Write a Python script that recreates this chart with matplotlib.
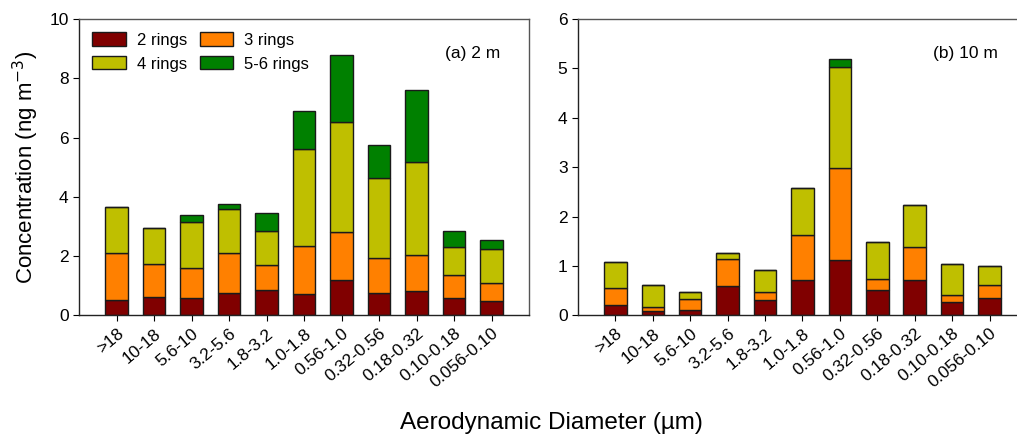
import matplotlib
matplotlib.use("Agg")
import matplotlib.pyplot as plt
import numpy as np
from matplotlib.patches import Patch

plt.rcParams['font.family'] = ['Liberation Sans', 'DejaVu Sans']

sizes = [">18", "10-18", "5.6-10", "3.2-5.6", "1.8-3.2", "1.0-1.8",
         "0.56-1.0", "0.32-0.56", "0.18-0.32", "0.10-0.18", "0.056-0.10"]
groups = ["2 rings", "3 rings", "4 rings", "5-6 rings"]
colors = ["#800000", "#FF8000", "#BFBF00", "#008000"]

# panel (a) 2 m
a_2r = [0.51, 0.62, 0.58, 0.76, 0.85, 0.73, 1.18, 0.76, 0.83, 0.57, 0.49]
a_3r = [1.59, 1.10, 1.02, 1.35, 0.86, 1.60, 1.64, 1.17, 1.21, 0.80, 0.59]
a_4r = [1.54, 1.24, 1.55, 1.48, 1.12, 3.27, 3.72, 2.72, 3.15, 0.95, 1.17]
a_56r = [0.00, 0.00, 0.22, 0.18, 0.61, 1.28, 2.23, 1.10, 2.43, 0.53, 0.29]

# panel (b) 10 m
b_2r = [0.20, 0.08, 0.11, 0.59, 0.32, 0.72, 1.12, 0.52, 0.72, 0.27, 0.36]
b_3r = [0.35, 0.09, 0.22, 0.56, 0.15, 0.91, 1.86, 0.21, 0.66, 0.15, 0.25]
b_4r = [0.54, 0.44, 0.14, 0.11, 0.44, 0.95, 2.05, 0.76, 0.85, 0.61, 0.39]
b_56r = [0.00, 0.00, 0.00, 0.00, 0.00, 0.00, 0.16, 0.00, 0.00, 0.00, 0.00]


def stacked(ax, series, ymax, step, tag):
    x = np.arange(len(sizes))
    bottom = np.zeros(len(sizes))
    for vals, c in zip(series, colors):
        vals = np.array(vals)
        ax.bar(x, vals, 0.6, bottom=bottom, color=c,
               edgecolor="#1a1a1a", linewidth=1.0, zorder=2)
        bottom += vals
    ax.set_xlim(-1, 11)
    ax.set_ylim(0, ymax)
    ax.set_yticks(np.arange(0, ymax + step / 2, step))
    ax.set_xticks(x)
    ax.set_xticklabels(sizes, rotation=40, ha="right",
                       rotation_mode="anchor", fontsize=12.5)
    ax.tick_params(axis="y", labelsize=12.5, direction="out", length=4)
    ax.tick_params(axis="x", direction="out", length=4)
    for s in ax.spines.values():
        s.set_color("#555555")
        s.set_linewidth(1.0)
    ax.spines["left"].set_color("#222222")
    ax.spines["bottom"].set_color("#222222")
    ax.text(0.935, 0.885, tag, transform=ax.transAxes, ha="right",
            va="center", fontsize=12.5)


fig = plt.figure(figsize=(10.17, 4.38), dpi=100)
ax1 = fig.add_axes([0.0777, 0.280, 0.4425, 0.6766])
ax2 = fig.add_axes([0.5683, 0.280, 0.4415, 0.6766])

stacked(ax1, [a_2r, a_3r, a_4r, a_56r], 10, 2, "(a) 2 m")
stacked(ax2, [b_2r, b_3r, b_4r, b_56r], 6, 1, "(b) 10 m")
ax2.spines["right"].set_visible(False)

# legend fills column-wise, so order it to read row-wise
handles = [Patch(facecolor=c, edgecolor="#1a1a1a", linewidth=1.0)
           for c in colors]
order = [0, 2, 1, 3]
ax1.legend([handles[i] for i in order], [groups[i] for i in order],
           ncol=2, loc="upper left", frameon=False,
           fontsize=12, handlelength=2.0, handleheight=0.85,
           columnspacing=0.8, labelspacing=0.5, handletextpad=0.65,
           bbox_to_anchor=(0.0, 1.0), borderaxespad=0.4)

ax1.set_ylabel("Concentration (ng m$^{-3}$)", fontsize=16, labelpad=6)
fig.text(0.542, 0.035, "Aerodynamic Diameter (\u00b5m)", ha="center",
         va="center", fontsize=17.5)

fig.savefig("out.png", dpi=100)
